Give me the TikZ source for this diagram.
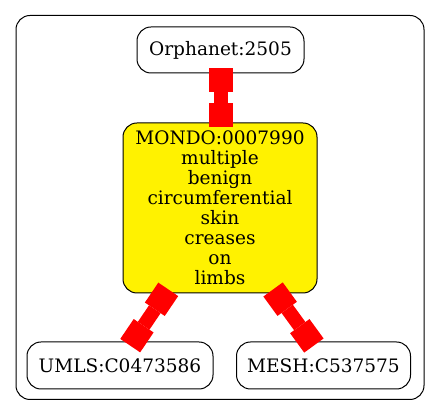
\documentclass[tikz,border=0pt]{standalone}
\usepackage{fontspec}
\setmainfont{DejaVu Serif}
\usetikzlibrary{arrows.meta}
\begin{document}
\begin{tikzpicture}[x=0.75pt,y=-0.75pt,
  every node/.style={font=\fontsize{13.9pt}{15pt}\selectfont},
  entity/.style={draw=black,line width=0.75pt,rounded corners=10.5pt,inner sep=0pt,align=center},
  link/.style={draw=red,line width=10.5pt,shorten <=-3.75pt,shorten >=-3.75pt,
    {Square[length=18pt,width=18pt,line width=0pt]}-{Square[length=18pt,width=18pt,line width=0pt]}}]
\useasboundingbox (0,0) rectangle (440,416);
\node[draw=black,line width=0.75pt,rounded corners=10.5pt,minimum width=306pt,minimum height=288pt,inner sep=0pt] (frame) at (220,207.5) {};
\node[entity,minimum width=125.25pt,minimum height=34.5pt] (orph) at (220.5,50) {Orphanet:2505};
\node[entity,fill=yellow,minimum width=145.5pt,minimum height=127.5pt] (mondo) at (220,208) {MONDO:0007990\\multiple\\benign\\circumferential\\skin\\creases\\on\\limbs};
\node[entity,minimum width=139.5pt,minimum height=35.25pt] (umls) at (120,365.5) {UMLS:C0473586};
\node[entity,minimum width=130.5pt,minimum height=35.25pt] (mesh) at (323.5,365.5) {MESH:C537575};
\draw[link] (orph.south) -- (orph.south |- mondo.north);
\draw[link] ([xshift=-40.9pt]mondo.south) -- ([xshift=9.75pt]umls.north);
\draw[link] ([xshift=42pt]mondo.south) -- ([xshift=-9.4pt]mesh.north);
\end{tikzpicture}
\end{document}
